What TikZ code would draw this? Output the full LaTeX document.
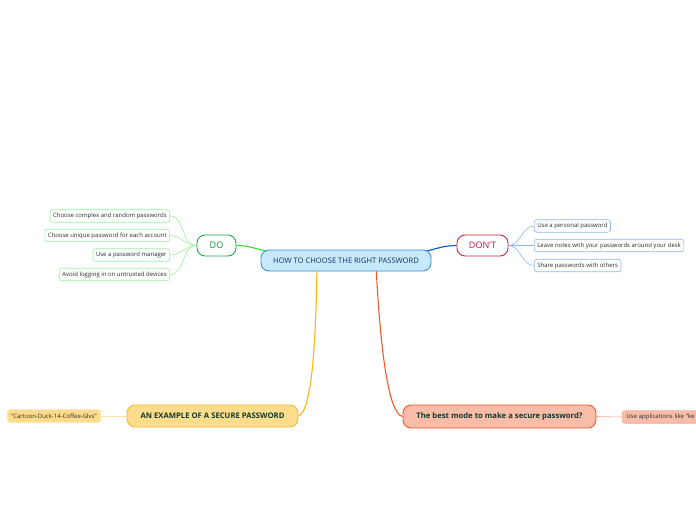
\documentclass[tikz,border=0pt]{standalone}
\usepackage{fontspec}
\setmainfont{Open Sans}
\usetikzlibrary{positioning,backgrounds}
\definecolor{rootfill}{HTML}{C6E9FB}
\definecolor{rootline}{HTML}{3C8FD6}
\definecolor{rootink}{HTML}{10305A}
\definecolor{doline}{HTML}{1FA84B}
\definecolor{doink}{HTML}{10903F}
\definecolor{doedge}{HTML}{2EE02E}
\definecolor{dosub}{HTML}{9DEE9D}
\definecolor{dontline}{HTML}{C8253F}
\definecolor{dontink}{HTML}{C2163A}
\definecolor{dontedge}{HTML}{0A55C8}
\definecolor{dontsub}{HTML}{8FB5EE}
\definecolor{exfill}{HTML}{FDDC8C}
\definecolor{exline}{HTML}{F5B83A}
\definecolor{exedge}{HTML}{FFB612}
\definecolor{exsub}{HTML}{FCE2AC}
\definecolor{bestfill}{HTML}{F8BCA9}
\definecolor{bestline}{HTML}{E9582C}
\definecolor{bestedge}{HTML}{F15A28}
\definecolor{bestsub}{HTML}{F6AA92}
\definecolor{leafink}{HTML}{2A2A2A}
\definecolor{branchink}{HTML}{0F3B2C}

\begin{document}
\begin{tikzpicture}[x=1pt,y=-1pt,
  topic/.style={rounded corners=8pt,draw,line width=0.9pt,minimum height=21pt,inner sep=0pt,font=\fontsize{7.6}{9}\selectfont},
  leaf/.style={rounded corners=2.5pt,draw,line width=0.6pt,minimum height=12.5pt,inner xsep=3pt,inner ysep=0pt,font=\fontsize{6}{7}\selectfont,text=leafink},
  edge/.style={line width=1.1pt},
  twig/.style={line width=0.6pt}]
\clip (0,0) rectangle (696,520);
% main topics
\node[topic,fill=rootfill,draw=rootline,text=rootink,minimum width=170pt] (root) at (346,260.5) {HOW TO CHOOSE THE RIGHT PASSWORD};
\node[topic,fill=white,draw=doline,text=doink,minimum width=39pt,font=\fontsize{9}{10}\selectfont] (do) at (216.5,245.5) {DO};
\node[topic,fill=white,draw=dontline,text=dontink,minimum width=51pt,font=\fontsize{9}{10}\selectfont] (dont) at (482.5,245.5) {DON'T};
\node[topic,fill=exfill,draw=exline,text=branchink,minimum width=171pt,minimum height=22pt,font=\fontsize{7.7}{9}\selectfont\bfseries] (ex) at (212.5,416) {AN EXAMPLE OF A SECURE PASSWORD};
\node[topic,fill=bestfill,draw=bestline,text=branchink,minimum width=193pt,minimum height=23pt,font=\fontsize{7.7}{9}\selectfont\bfseries] (best) at (499.5,416.5) {The best mode to make a secure password?};
% leaves of DO
\node[leaf,draw=dosub,anchor=east] (do1) at (170,216) {Choose complex and random passwords};
\node[leaf,draw=dosub,anchor=east] (do2) at (170,235.5) {Choose unique password for each account};
\node[leaf,draw=dosub,anchor=east] (do3) at (170,255) {Use a password manager};
\node[leaf,draw=dosub,anchor=east] (do4) at (170,274.5) {Avoid logging in on untrusted devices};
% leaves of DON'T
\node[leaf,draw=dontsub,anchor=west] (dont1) at (534,226) {Use a personal password};
\node[leaf,draw=dontsub,anchor=west] (dont2) at (534,245.5) {Leave notes with your passwords around your desk};
\node[leaf,draw=dontsub,anchor=west] (dont3) at (534,265.5) {Share passwords with others};
% the other two
\node[leaf,fill=exfill,draw=exsub,anchor=east,inner xsep=4pt] (ex1) at (101,416) {“Cartoon-Duck-14-Coffee-Glvs”};
\node[leaf,fill=bestfill,draw=bestsub,anchor=west,text width=90pt,align=left,inner xsep=4pt] (best1) at (622,417) {Use applications like “ke};

\begin{scope}[on background layer]
\draw[edge,doedge] (do.east) to[out=0,in=170] (274,253);
\draw[edge,dontedge] (dont.west) to[out=180,in=10] (418,253);
\draw[edge,exedge] (317,265) .. controls (316,340) and (312,412) .. (ex.east);
\draw[edge,bestedge] (376,265) .. controls (380,345) and (388,414) .. (best.west);
\foreach \n in {do1,do2,do3,do4}
  \draw[twig,dosub] (do.west) to[out=180,in=0] (\n.east);
\foreach \n in {dont1,dont2,dont3}
  \draw[twig,dontsub] (dont.east) to[out=0,in=180] (\n.west);
\draw[twig,exsub] (ex.west) -- (ex1.east);
\draw[twig,bestsub] (best.east) -- (best1.west);
\end{scope}
\end{tikzpicture}
\end{document}
